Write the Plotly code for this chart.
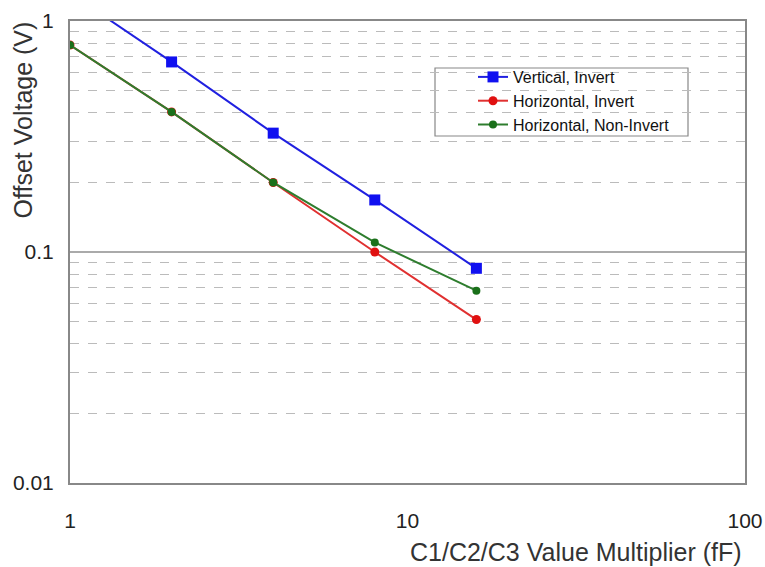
import plotly.graph_objects as go

x_vals = [1, 2, 4, 8, 16]
vertical_invert = [1.32, 0.665, 0.327, 0.168, 0.085]
horizontal_invert = [0.787, 0.404, 0.200, 0.100, 0.051]
horizontal_noninvert = [0.787, 0.404, 0.200, 0.110, 0.068]

x_ticks = [1, 10, 100]
y_ticks = [0.01, 0.1, 1]

W, H = 765, 567
L, R, T, B = 70, 20, 21, 84
plot_w = W - L - R
plot_h = H - T - B


def px_x(p):
    return (p - L) / plot_w


def px_y(p):
    return (H - B - p) / plot_h


fig = go.Figure()
fig.add_trace(go.Scatter(x=x_vals, y=vertical_invert, name="Vertical, Invert",
                         mode="lines+markers", line=dict(color="#2020e0", width=2),
                         marker=dict(symbol="square", size=11, color="#1010f0")))
fig.add_trace(go.Scatter(x=x_vals, y=horizontal_invert, name="Horizontal, Invert",
                         mode="lines+markers", line=dict(color="#e03030", width=2),
                         marker=dict(symbol="circle", size=9, color="#e01010")))
fig.add_trace(go.Scatter(x=x_vals, y=horizontal_noninvert, name="Horizontal, Non-Invert",
                         mode="lines+markers", line=dict(color="#2e7d2e", width=2),
                         marker=dict(symbol="circle", size=8, color="#1a701a")))

fig.update_layout(
    width=W, height=H,
    margin=dict(l=L, r=R, t=T, b=B, autoexpand=False),
    paper_bgcolor="white", plot_bgcolor="white",
    font=dict(family="Liberation Sans, Arial, sans-serif", size=21, color="#222"),
    showlegend=True,
    legend=dict(x=px_x(473), y=px_y(60), xanchor="left", yanchor="top",
                bgcolor="rgba(0,0,0,0)", borderwidth=0,
                font=dict(size=16, color="#111"), tracegroupgap=0),
    xaxis=dict(type="log", range=[0, 2], tickvals=x_ticks, ticktext=[str(v) for v in x_ticks],
               showgrid=False, showline=True, linecolor="#888", linewidth=2, mirror=True,
               ticks="", ticklabelstandoff=18, zeroline=False, automargin=False),
    yaxis=dict(type="log", range=[-2, 0], tickvals=y_ticks, ticktext=["0.01", "0.1", "1"],
               showgrid=True, gridcolor="#aaa", gridwidth=1.5,
               showline=True, linecolor="#888", linewidth=2, mirror=True,
               ticks="", ticklabelstandoff=10, automargin=False,
               minor=dict(dtick="D1", showgrid=True, gridcolor="#bbb", griddash="dash",
                          gridwidth=1.2, ticks="")),
    shapes=[
        dict(type="rect", xref="paper", yref="paper", layer="below",
             x0=px_x(435), x1=px_x(688), y0=px_y(136), y1=px_y(68),
             fillcolor="white", line=dict(color="#888", width=1.2)),
    ],
    annotations=[
        dict(text="Offset Voltage (V)", x=px_x(23), y=px_y(20),
             xref="paper", yref="paper",
             xanchor="center", yanchor="top", textangle=-90, showarrow=False,
             font=dict(size=25, color="#333")),
        dict(text="C1/C2/C3 Value Multiplier (fF)", x=px_x(744),
             y=px_y(552), xref="paper", yref="paper",
             xanchor="right", yanchor="middle", showarrow=False,
             font=dict(size=25, color="#333")),
    ],
)

fig.write_html("out.html", config={"displayModeBar": False},
               post_script="document.body.style.margin='0';document.body.style.padding='0';")
